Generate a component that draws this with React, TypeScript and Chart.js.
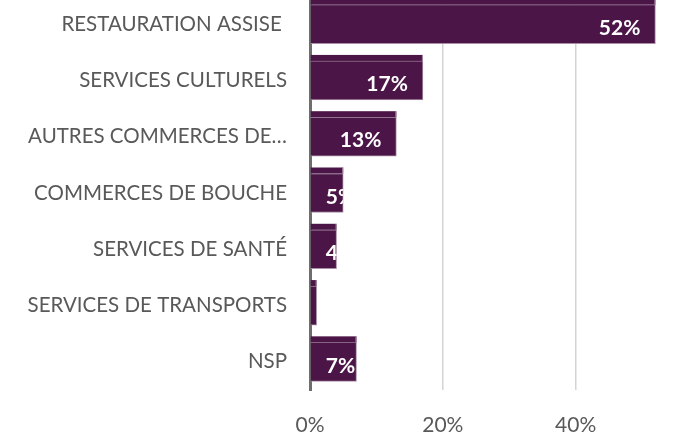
import React, { useEffect, useRef } from "react";
import { Chart, registerables } from "chart.js";

Chart.register(...registerables);

const categories = [
  "RESTAURATION ASSISE ",
  "SERVICES CULTURELS",
  "AUTRES COMMERCES DE…",
  "COMMERCES DE BOUCHE",
  "SERVICES DE SANTÉ",
  "SERVICES DE TRANSPORTS",
  "NSP",
];
const values = [52, 17, 13, 5, 4, 1, 7];
const valueLabels = ["52%", "17%", "13%", "5%", "4%", "1%", "7%"];
const xTicks = [0, 20, 40];

const BAR = "#4b1547";
const EDGE = "#a88fa5";
const FONT = "Lato, 'Liberation Sans', Arial, sans-serif";

const barDecor = {
  id: "barDecor",
  afterDatasetsDraw(chart: any) {
    const ctx = chart.ctx;
    const meta = chart.getDatasetMeta(0);
    ctx.save();
    meta.data.forEach((bar: any, i: number) => {
      const p = bar.getProps(["x", "y", "base", "height"], true);
      const top = p.y - p.height / 2;
      const w = p.x - p.base;
      // ghost strip above the bar
      ctx.fillStyle = BAR;
      ctx.fillRect(p.base, top - 6, w, 6);
      ctx.strokeStyle = EDGE;
      ctx.lineWidth = 1;
      ctx.beginPath();
      ctx.moveTo(p.x - 0.5, top - 6);
      ctx.lineTo(p.x - 0.5, top);
      ctx.stroke();
      // value label
      ctx.font = "bold 21px " + FONT;
      ctx.fillStyle = "#ffffff";
      ctx.textBaseline = "middle";
      ctx.textAlign = "left";
      const tw = ctx.measureText(valueLabels[i]).width;
      const left = Math.max(p.x - 15 - tw, p.base + 15);
      ctx.save();
      ctx.beginPath();
      ctx.rect(p.base, top, w, p.height);
      ctx.clip();
      ctx.fillText(valueLabels[i], left, p.y + 4);
      ctx.restore();
    });
    ctx.restore();
  },
};

export default function App() {
  const ref = useRef<HTMLCanvasElement>(null);
  useEffect(() => {
    if (!ref.current) return;
    const chart = new Chart(ref.current, {
      type: "bar",
      data: {
        labels: categories,
        datasets: [
          {
            data: values,
            backgroundColor: BAR,
            borderColor: EDGE,
            borderWidth: 1,
            borderSkipped: "left",
            barThickness: 39,
          },
        ],
      },
      options: {
        indexAxis: "y",
        animation: false,
        responsive: false,
        maintainAspectRatio: false,
        layout: { padding: { top: 16, left: 0, right: 0, bottom: 0 } },
        plugins: { legend: { display: false }, tooltip: { enabled: false }, title: { display: false } },
        scales: {
          x: {
            type: "linear",
            min: 0,
            max: 55.7,
            afterBuildTicks: (s: any) => {
              s.ticks = xTicks.map((v) => ({ value: v }));
            },
            afterFit: (s: any) => {
              s.paddingLeft = 0;
              s.paddingRight = 0;
              s.height = 46;
            },
            ticks: {
              callback: (v: any) => v + "%",
              color: "#595959",
              font: { family: FONT, size: 21 },
              padding: 23,
              maxRotation: 0,
            },
            grid: {
              color: (c: any) => (c.tick && c.tick.value === 0 ? "rgba(0,0,0,0)" : "#d4d4d4"),
              lineWidth: 1.5,
              drawTicks: false,
            },
            border: { display: false },
          },
          y: {
            type: "category",
            z: 1,
            afterFit: (s: any) => {
              s.width = 310;
              s.paddingTop = 0;
              s.paddingBottom = 0;
            },
            ticks: {
              color: "#595959",
              font: { family: FONT, size: 20.5 },
              padding: 23,
              autoSkip: false,
            },
            grid: { display: false, drawTicks: false },
            border: { display: true, color: "#6e6e6e", width: 3 },
          },
        },
      },
      plugins: [barDecor],
    });
    return () => chart.destroy();
  }, []);
  return (
    <div style={{ position: "fixed", left: 0, top: -20, width: 680, height: 456, background: "#fff" }}>
      <canvas ref={ref} width={680} height={456} style={{ display: "block", width: 680, height: 456 }} />
    </div>
  );
}
